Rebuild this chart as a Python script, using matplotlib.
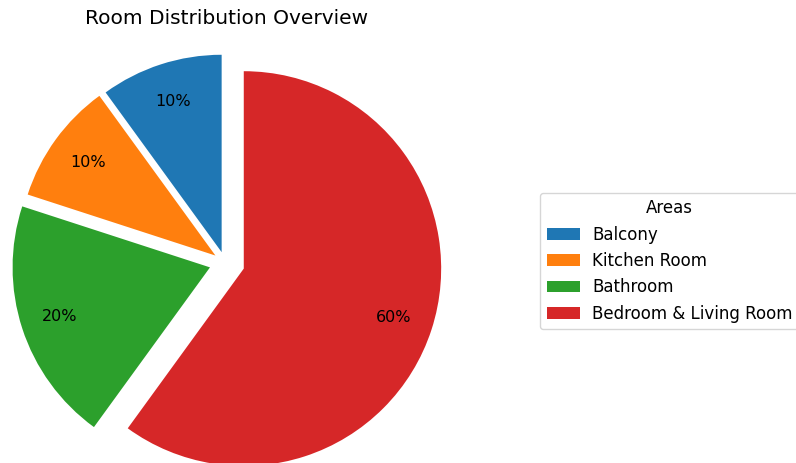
import matplotlib
matplotlib.use("Agg")
import matplotlib.pyplot as plt

areas = ["Balcony", "Kitchen Room", "Bathroom", "Bedroom & Living Room"]
shares = [10, 10, 20, 60]
explode = [0.055, 0.06, 0.08, 0.1]

W, H = 796, 463
fig = plt.figure(figsize=(W / 100, H / 100), dpi=100)
ax = fig.add_axes([0, 0, 1, 1])

wedges, texts, autotexts = ax.pie(shares, explode=explode, autopct='%1.0f%%',
                                  startangle=90, pctdistance=0.8,
                                  textprops={'fontsize': 11.5})

# pie centre sits at (225, 262.5) px, radius about 197 px
s = 197.4
cx, cy = 225.0, 262.5
ax.set_xlim(-cx / s, (W - cx) / s)
ax.set_ylim(-(H - cy) / s, cy / s)
ax.set_axis_off()

fig.text(226.5 / W, 1 - 18 / H, "Room Distribution Overview",
         ha='center', va='center', fontsize=14.5)

fig.legend(wedges, areas, title="Areas", loc='center left',
           bbox_to_anchor=(540 / W, 1 - 261 / H), fontsize=12,
           title_fontsize=12, borderaxespad=0, labelspacing=0.5,
           handletextpad=0.75)

fig.savefig("out.png", dpi=100)
